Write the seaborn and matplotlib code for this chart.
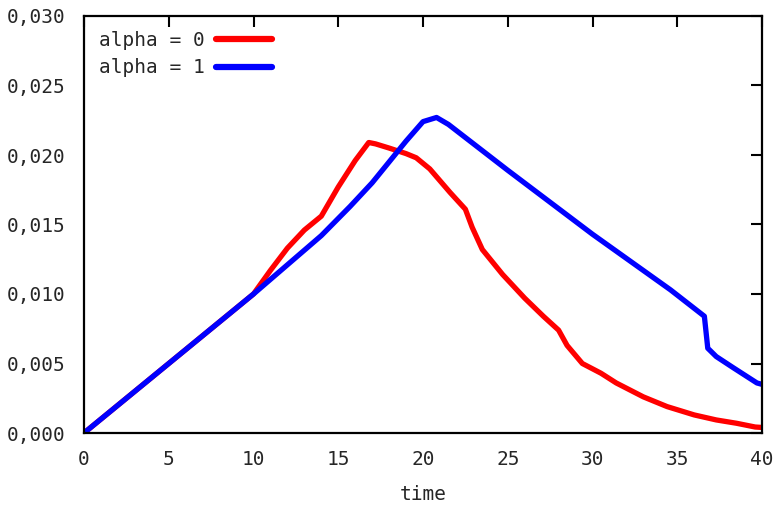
import matplotlib
matplotlib.use("Agg")
import matplotlib.pyplot as plt
import seaborn as sns
import pandas as pd
from matplotlib.ticker import FixedLocator, FixedFormatter

# ---- data ----
t_red = [0, 5, 10, 11, 12, 13, 14, 15, 16, 16.8, 17.2, 18, 19, 19.6, 20.4, 21.6,
         22.5, 22.9, 23.5, 24.7, 26, 27.1, 28, 28.5, 29.4, 30.5, 31.4, 33, 34.4,
         36, 37.3, 38.5, 39.6, 40]
v_red = [0, 0.005, 0.0100, 0.0117, 0.0133, 0.0146, 0.0156, 0.0177, 0.0196, 0.0209,
         0.0208, 0.0205, 0.0201, 0.0198, 0.0190, 0.0173, 0.0161, 0.0148, 0.0132,
         0.0114, 0.0097, 0.0084, 0.0074, 0.0063, 0.0050, 0.0043, 0.0036, 0.0026,
         0.0019, 0.0013, 0.00094, 0.0007, 0.00043, 0.0004]
t_blue = [0, 10, 12, 14, 15.7, 17, 18, 19, 20, 20.8, 21.5, 25, 30, 34.6, 36.6,
          36.8, 37.3, 38.3, 39.7, 40]
v_blue = [0, 0.0100, 0.0121, 0.0142, 0.0163, 0.0180, 0.0195, 0.0210, 0.0224,
          0.0227, 0.0222, 0.0189, 0.0143, 0.0103, 0.0084, 0.0061, 0.0055, 0.0047,
          0.0036, 0.0035]
series_names = ["alpha = 0", "alpha = 1"]
series_colors = ["#ff0000", "#0000ff"]
x_ticks = [0, 5, 10, 15, 20, 25, 30, 35, 40]
y_ticks = [0.0, 0.005, 0.010, 0.015, 0.020, 0.025, 0.030]
y_tick_labels = ["0,000", "0,005", "0,010", "0,015", "0,020", "0,025", "0,030"]
x_label = "time"

df = pd.concat([
    pd.DataFrame({"time": t_red, "value": v_red, "series": series_names[0]}),
    pd.DataFrame({"time": t_blue, "value": v_blue, "series": series_names[1]}),
], ignore_index=True)

sns.set_style("white")
plt.rcParams["font.family"] = ["DejaVu Sans Mono", "DejaVu Sans"]

fig = plt.figure(figsize=(7.77, 5.09), dpi=100)
ax = fig.add_axes([84 / 777, 1 - 433 / 509, (762 - 84) / 777, (433 - 16) / 509])

sns.lineplot(data=df, x="time", y="value", hue="series", hue_order=series_names,
             palette=series_colors, linewidth=3.8, ax=ax, sort=False,
             estimator=None)

ax.set_xlim(0, 40)
ax.set_ylim(0, 0.030)
ax.xaxis.set_major_locator(FixedLocator(x_ticks))
ax.yaxis.set_major_locator(FixedLocator(y_ticks))
ax.yaxis.set_major_formatter(FixedFormatter(y_tick_labels))
ax.set_xlabel(x_label, fontsize=14, labelpad=12)
ax.set_ylabel("")

for s in ax.spines.values():
    s.set_visible(True)
    s.set_color("black")
    s.set_linewidth(1.6)

ax.tick_params(axis="both", which="major", direction="in", length=8, width=1.5,
               labelsize=14, color="black", top=True, right=True)
ax.tick_params(axis="x", pad=12)
ax.tick_params(axis="y", pad=13)

leg = ax.legend(loc="upper left", frameon=False, markerfirst=False,
                fontsize=14, handlelength=2.9, borderaxespad=0.25,
                labelspacing=0.45, handletextpad=0.6, borderpad=0.5)
for line in leg.get_lines():
    line.set_linewidth(4.5)

fig.savefig("out.png", dpi=100)
